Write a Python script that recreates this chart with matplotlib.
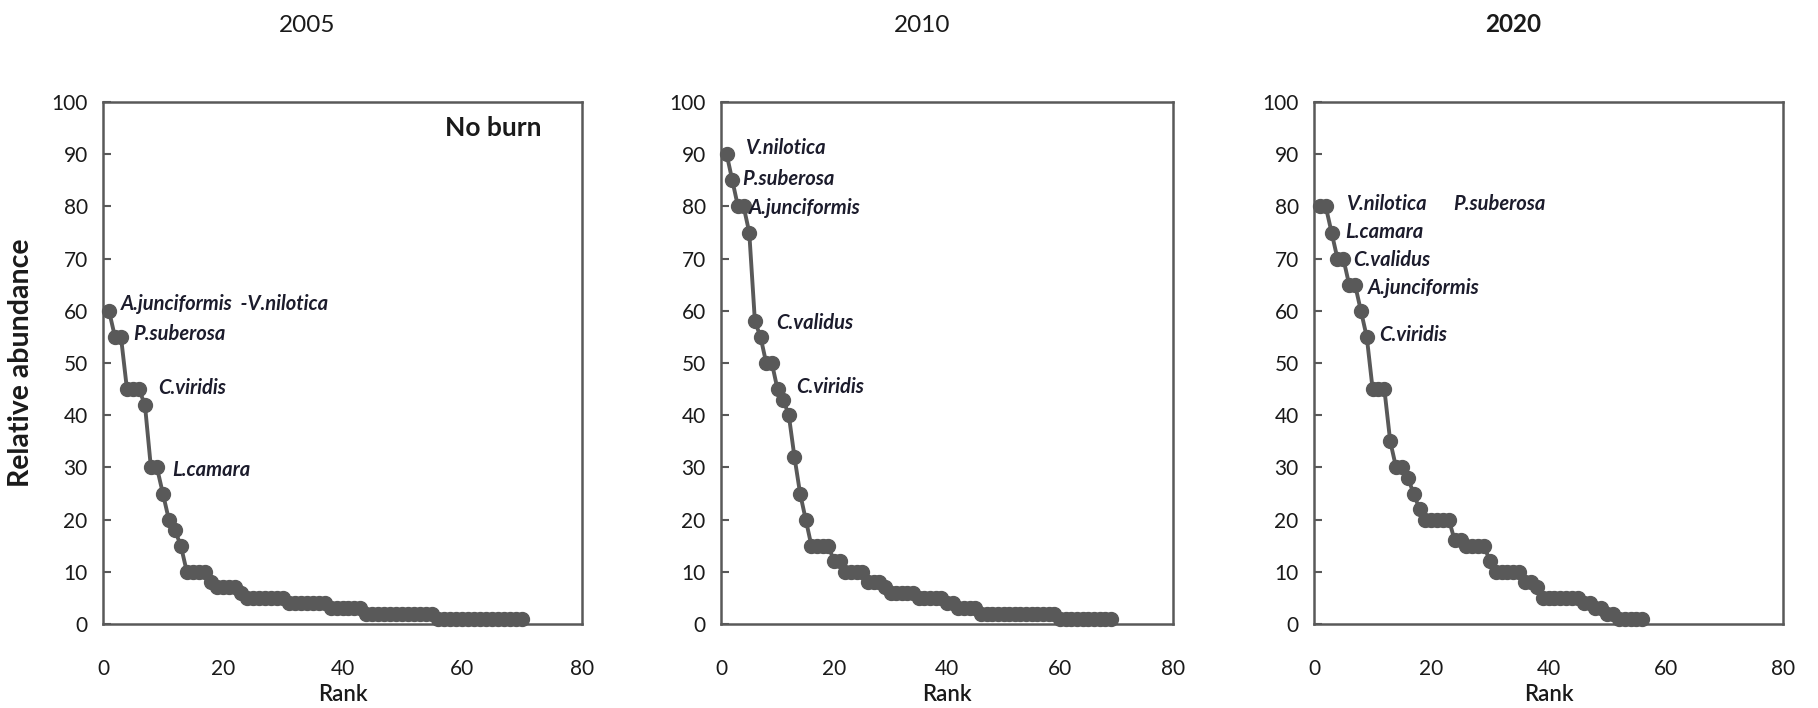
import matplotlib
matplotlib.use("Agg")
import matplotlib.pyplot as plt
import numpy as np

plt.rcParams['font.family'] = ['Lato', 'DejaVu Sans']

years = ["2005", "2010", "2020"]

abund_2005 = ([60, 55, 55, 45, 45, 45, 42, 30, 30, 25, 20, 18, 15,
               10, 10, 10, 10, 8, 7, 7, 7, 7, 6]
              + [5] * 7 + [4] * 7 + [3] * 6 + [2] * 12 + [1] * 15)

abund_2010 = ([90, 85, 80, 80, 75, 58, 55, 50, 50, 45, 43, 40, 32, 25, 20,
               15, 15, 15, 15, 12, 12, 10, 10, 10, 10, 8, 8, 8, 7]
              + [6] * 5 + [5] * 5 + [4] * 2 + [3] * 4 + [2] * 14 + [1] * 10)

abund_2020 = ([80, 80, 75, 70, 70, 65, 65, 60, 55, 45, 45, 45, 35, 30, 30,
               28, 25, 22] + [20] * 5 + [16, 16] + [15] * 4 + [12]
              + [10] * 5 + [8, 8, 7] + [5] * 7 + [4, 4, 3, 3, 2, 2] + [1] * 5)

species_2005 = ["A.junciformis  -V.nilotica", "P.suberosa", "C.viridis", "L.camara"]
species_2010 = ["V.nilotica", "P.suberosa", "A.junciformis", "C.validus", "C.viridis"]
species_2020 = ["V.nilotica", "P.suberosa", "L.camara", "C.validus", "A.junciformis", "C.viridis"]

# label anchor positions (layout)
pos_2005 = [(3.0, 61.3), (5.0, 55.5), (9.3, 45.3), (11.5, 29.5)]
pos_2010 = [(4.3, 91.2), (3.7, 85.2), (4.9, 79.6), (9.7, 57.6), (13.3, 45.4)]
pos_2020 = [(5.4, 80.5), (23.8, 80.5), (5.4, 75.0), (6.6, 69.8), (9.2, 64.4), (11.1, 55.4)]

all_abund = [abund_2005, abund_2010, abund_2020]
all_species = [species_2005, species_2010, species_2020]
all_pos = [pos_2005, pos_2010, pos_2020]

W, H = 1818, 708
fig = plt.figure(figsize=(W / 100, H / 100), dpi=100)

boxes = [(103, 582), (721, 1173), (1314, 1783)]
top_px, bot_px = 102, 624
title_x = [307, 922, 1513]
title_weight = ["normal", "normal", "bold"]

grey = "#595959"
txt = "#1a1a1a"

for i, (l, r) in enumerate(boxes):
    ax = fig.add_axes([l / W, 1 - bot_px / H, (r - l) / W, (bot_px - top_px) / H])
    vals = all_abund[i]
    ranks = np.arange(1, len(vals) + 1)
    ax.plot(ranks, vals, color=grey, lw=2.8, marker='o', ms=10,
            markerfacecolor=grey, markeredgecolor=grey, zorder=3, clip_on=False)
    ax.set_xlim(0, 80)
    ax.set_ylim(0, 100)
    ax.set_xticks(np.arange(0, 81, 20))
    ax.set_yticks(np.arange(0, 101, 10))
    ax.tick_params(axis='y', direction='in', length=6, width=1.5, color=grey,
                   labelsize=15, labelcolor=txt, pad=11)
    ax.tick_params(axis='x', length=0, labelsize=15, labelcolor=txt, pad=25)
    for s in ax.spines.values():
        s.set_color(grey)
        s.set_linewidth(1.8)
    ax.set_xlabel("Rank", fontsize=16, fontweight='semibold', color=txt, labelpad=4)
    if i == 0:
        fig.text(21 / W, 1 - 363 / H, "Relative abundance", fontsize=20.5,
                 fontweight='bold', color=txt, rotation=90, ha='center', va='center')
        ax.text(73.3, 95, "No burn", fontsize=19, fontweight='bold', color=txt,
                ha='right', va='center')
    for name, (x, y) in zip(all_species[i], all_pos[i]):
        ax.text(x, y, name, fontsize=14.5, fontweight='bold', fontstyle='italic',
                color="#1c1c2c", ha='left', va='center', zorder=4)
    fig.text(title_x[i] / W, 1 - 25 / H, years[i], fontsize=17.5,
             fontweight=title_weight[i], color=txt, ha='center', va='center')

fig.savefig("out.png", dpi=100, facecolor='white')
